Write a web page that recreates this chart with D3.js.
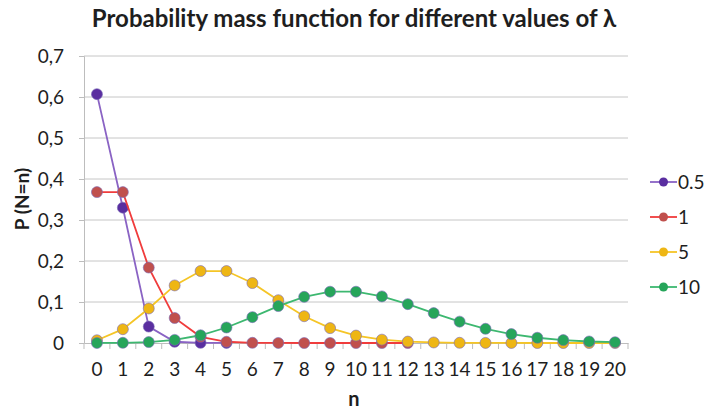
<!DOCTYPE html>
<html lang="en">
<head>
  <meta charset="UTF-8">
  <title>Probability mass function</title>
  <script src="https://d3js.org/d3.v7.min.js"></script>
  <style>
    body { margin: 0; background: #fff; }
    text { font-family: Lato, "Open Sans", sans-serif; fill: #1e1e1e; }
  </style>
</head>
<body>
  <script>
    // n values on the category axis
    const nValues = d3.range(0, 21);
    const yTicks = [0, 0.1, 0.2, 0.3, 0.4, 0.5, 0.6, 0.7];

    // values
    const lambda05 = [0.607, 0.33, 0.04, 0.003, 0.0004, 0.0001];
    const lambda1 = [0.368, 0.368, 0.184, 0.061, 0.015, 0.003, 0.0005, 0.0001, 0, 0, 0, 0, 0];
    const lambda5 = [0.0067, 0.0337, 0.0842, 0.1404, 0.1755, 0.1755, 0.1462, 0.1044, 0.0653, 0.0363,
      0.0181, 0.0082, 0.0034, 0.0013, 0.0005, 0.0002, 0.0001, 0, 0, 0, 0];
    const lambda10 = [0.0001, 0.0005, 0.0023, 0.0076, 0.0189, 0.0378, 0.0631, 0.0901, 0.1126, 0.1251,
      0.1251, 0.1137, 0.0948, 0.0729, 0.0521, 0.0347, 0.0217, 0.0128, 0.0071, 0.0037, 0.0019];

    const series = [
      { name: '0.5', values: lambda05, line: '#8a63c4', dot: '#5a2ea0' },
      { name: '1', values: lambda1, line: '#f03c3c', dot: '#c0504d' },
      { name: '5', values: lambda5, line: '#f5c526', dot: '#eeb614' },
      { name: '10', values: lambda10, line: '#3db870', dot: '#26a55a' }
    ];

    const width = 704, height = 409;
    const plot = { left: 84, right: 628, top: 56, bottom: 343 };

    const svg = d3.select('body').append('svg')
      .attr('width', width)
      .attr('height', height);

    const x = d3.scaleBand()
      .domain(nValues)
      .range([plot.left, plot.right]);
    const y = d3.scaleLinear()
      .domain([0, 0.7])
      .range([plot.bottom, plot.top]);
    const cx = n => x(n) + x.bandwidth() / 2;

    // gridlines
    svg.append('g')
      .selectAll('line')
      .data(yTicks.slice(1))
      .enter().append('line')
        .attr('x1', plot.left).attr('x2', plot.right)
        .attr('y1', d => y(d)).attr('y2', d => y(d))
        .attr('stroke', '#c6c6c6').attr('stroke-width', 1);

    // y axis
    const yAxis = svg.append('g')
      .attr('transform', `translate(${plot.left},0)`)
      .call(d3.axisLeft(y)
        .tickValues(yTicks)
        .tickSize(5)
        .tickPadding(15)
        .tickFormat(d => d === 0 ? '0' : d3.format('.1f')(d).replace('.', ',')));
    yAxis.select('.domain').attr('stroke', '#bdbdbd');
    yAxis.selectAll('.tick line').attr('stroke', '#bdbdbd');
    yAxis.selectAll('text').style('font-size', '19px').attr('fill', '#1e1e1e');

    // x axis: ticks sit between the categories
    const xAxis = svg.append('g')
      .attr('transform', `translate(0,${plot.bottom})`)
      .call(d3.axisBottom(x).tickSize(0).tickPadding(20));
    xAxis.select('.domain').attr('stroke', '#bdbdbd');
    xAxis.selectAll('text').style('font-size', '19px').attr('fill', '#1e1e1e');
    xAxis.append('g')
      .selectAll('line')
      .data(nValues.concat([21]))
      .enter().append('line')
        .attr('x1', d => d < 21 ? x(d) : plot.right)
        .attr('x2', d => d < 21 ? x(d) : plot.right)
        .attr('y1', 0).attr('y2', 6)
        .attr('stroke', '#bdbdbd');

    // series
    const line = d3.line()
      .x((d, i) => cx(nValues[i]))
      .y(d => y(d));

    series.forEach(s => {
      const g = svg.append('g');
      g.append('path')
        .attr('d', line(s.values))
        .attr('fill', 'none')
        .attr('stroke', s.line)
        .attr('stroke-width', 1.8);
      g.selectAll('circle')
        .data(s.values)
        .enter().append('circle')
          .attr('cx', (d, i) => cx(nValues[i]))
          .attr('cy', d => y(d))
          .attr('r', 5.5)
          .attr('fill', s.dot)
          .attr('stroke', '#7a6bb8')
          .attr('stroke-opacity', 0.6)
          .attr('stroke-width', 1);
    });

    // legend
    const legend = svg.append('g')
      .attr('transform', 'translate(650,182)');
    series.forEach((s, i) => {
      const row = legend.append('g').attr('transform', `translate(0,${i * 35})`);
      row.append('line')
        .attr('x1', 0).attr('x2', 27)
        .attr('stroke', s.line).attr('stroke-width', 1.8);
      row.append('circle')
        .attr('cx', 13.5).attr('r', 4.5)
        .attr('fill', s.dot);
      row.append('text')
        .attr('x', 28).attr('dy', '0.35em')
        .style('font-size', '19px')
        .text(s.name);
    });

    // titles
    svg.append('text')
      .attr('x', 354).attr('y', 27)
      .attr('text-anchor', 'middle')
      .style('font-size', '24px').style('font-weight', 'bold')
      .text('Probability mass function for different values of λ');

    svg.append('text')
      .attr('transform', 'translate(22,199) rotate(-90)')
      .attr('text-anchor', 'middle')
      .attr('dy', '0.35em')
      .style('font-size', '19px').style('font-weight', 'bold')
      .text('P (N=n)');

    svg.append('text')
      .attr('x', 354).attr('y', 406)
      .attr('text-anchor', 'middle')
      .style('font-size', '20px').style('font-weight', 'bold')
      .text('n');
  </script>
</body>
</html>
